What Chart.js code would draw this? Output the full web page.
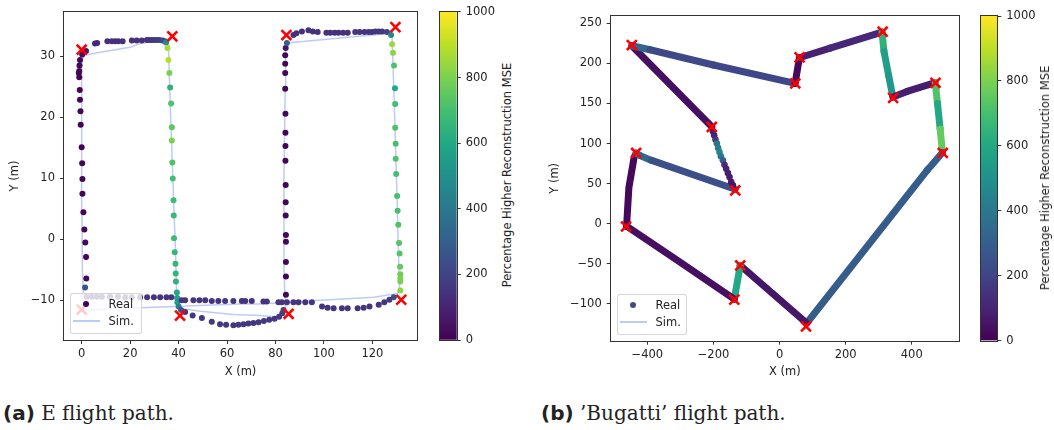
<!DOCTYPE html>
<html>
<head>
<meta charset="utf-8">
<script src="https://cdn.jsdelivr.net/npm/chart.js@4.4.1/dist/chart.umd.min.js"></script>
<style>
  body { margin: 0; background: #fff; }
  #fig { position: relative; width: 1054px; height: 430px; overflow: hidden; font-family: 'DejaVu Sans', sans-serif; color: #222; }
  #fig canvas { position: absolute; top: 0; }
  .leg { position: absolute; box-sizing: border-box; background: rgba(255,255,255,0.8); border: 1px solid rgba(204,204,204,0.8); border-radius: 3px; font-size: 11.5px; }
  .leg .dot { position: absolute; left: 11.5px; top: 7px; width: 6px; height: 6px; border-radius: 50%; }
  .leg .ln { position: absolute; left: 2px; top: 26px; width: 27px; height: 1.5px; background: rgba(65,105,225,0.35); }
  .leg span { position: absolute; left: 37.5px; line-height: 14px; white-space: nowrap; }
  .cblab { position: absolute; font-size: 11.5px; white-space: nowrap; transform: translate(-50%, -50%) rotate(-90deg); }
  .cap { position: absolute; top: 401px; line-height: 24px; font-size: 20px; white-space: nowrap; }
  .cap b { font-family: 'DejaVu Sans', sans-serif; }
  .cap i { font-style: normal; font-family: 'DejaVu Serif', serif; }
</style>
</head>
<body>
<div id="fig">
  <canvas id="plotA" width="430" height="385" style="left:0"></canvas>
  <canvas id="cbarA" width="70" height="385" style="left:430px"></canvas>
  <canvas id="plotB" width="430" height="385" style="left:540px"></canvas>
  <canvas id="cbarB" width="75" height="385" style="left:971px"></canvas>

  <div class="leg" style="left:70px; top:293px; width:72px; height:41px">
    <div class="dot" style="background:#440154"></div><span style="top:3px">Real</span>
    <div class="ln"></div><span style="top:20px">Sim.</span>
  </div>
  <div class="leg" style="left:617px; top:294px; width:70px; height:41px">
    <div class="dot" style="background:#3e4a89"></div><span style="top:3px">Real</span>
    <div class="ln"></div><span style="top:20px">Sim.</span>
  </div>

  <div class="cblab" style="left:507px; top:175px">Percentage Higher Reconstruction MSE</div>
  <div class="cblab" style="left:1045px; top:178px">Percentage Higher Reconstruction MSE</div>

  <div class="cap" style="left:3px"><b>(a)</b> <i>E flight path.</i></div>
  <div class="cap" style="left:541px"><b>(b)</b> <i>’Bugatti’ flight path.</i></div>
</div>

<script>
/* ---- (a) E flight path ---- */
const A_REAL_X = [
  1.4, 1.9, 1.8, 1.5, 1.1, 0.7, 0.3, 0.3, 0.2, 0.0, -0.4, -0.5, -0.7, -0.8, -1.0, -1.2, -1.0, -0.9, -0.7, 0.2, 1.8,
  5.5, 6.4, 10.6, 12.4, 13.8, 15.1, 16.9, 20.7, 22.7, 24.8, 26.9, 27.8, 28.9, 29.9, 31.0, 32.1, 33.4, 34.4,
  34.8, 35.4, 35.8, 36.2, 36.5, 36.9, 37.2, 37.2, 37.4, 37.6, 37.9, 38.0, 38.1, 38.4, 38.7, 38.8, 38.9, 39.3, 39.4, 39.5, 40.0,
  41.0, 42.7, 45.8, 49.6, 53.7, 57.1, 59.6, 62.6, 64.7, 66.8, 68.8, 70.9, 73.0, 75.2, 77.4, 79.6, 81.5, 82.8, 83.3,
  84.3, 84.3, 84.3, 84.3, 84.3, 84.2, 84.2, 84.2, 84.1, 84.1, 84.1, 84.1, 84.0, 84.0, 84.0, 84.0, 84.2, 84.7,
  87.4, 88.6, 90.9, 93.6, 95.4, 97.4, 101.0, 102.6, 104.4, 106.0, 107.9, 109.8, 112.9, 114.7, 116.7, 118.4, 119.8, 121.2, 122.6, 124.0, 126.0,
  127.7, 128.1, 128.5, 128.9, 129.3, 129.4, 129.4, 129.6, 129.6, 129.8, 130.2, 130.4, 130.7, 131.0, 131.2, 131.4, 131.5, 131.5, 131.5, 131.5,
  128.8, 127.0, 124.9, 122.6, 118.8, 116.4, 113.9, 109.8, 107.4, 104.0, 101.5, 99.2,
  95.0, 92.3, 89.5, 87.4, 84.7, 82.6, 81.2, 76.4, 75.0, 70.2, 67.5, 66.1,
  62.6, 59.2, 56.4, 53.7, 51.0, 48.6, 46.1, 42.7, 41.3,
  37.0, 35.0, 32.4, 29.8, 27.0, 24.1, 20.7, 18.0, 15.0, 11.7, 8.3, 6.2, 4.1, 2.1
];
const A_REAL_Y = [
  -7.9, -6.4, -2.9, -0.5, 1.6, 4.45, 7.5, 9.9, 12.5, 15.1, 18.8, 21.0, 22.9, 24.5, 26.6, 27.3, 27.6, 28.5, 29.4, 30.3, 30.9,
  32.1, 32.2, 32.5, 32.5, 32.5, 32.5, 32.5, 32.6, 32.6, 32.6, 32.7, 32.7, 32.7, 32.7, 32.7, 32.7, 32.6, 32.5,
  32.3, 31.4, 29.4, 27.3, 24.9, 22.3, 18.4, 16.2, 12.6, 10.0, 6.4, 3.9, 0.2, -2.1, -4.0, -5.6, -6.9, -8.7, -9.6, -10.3, -11.0,
  -11.6, -11.9, -12.5, -12.9, -13.5, -13.9, -14.0, -14.1, -14.0, -13.9, -13.8, -13.7, -13.6, -13.4, -13.2, -13.0, -12.7, -12.1, -11.6,
  -9.1, -6.1, -3.7, -0.4, 0.7, 3.9, 6.1, 8.9, 12.9, 15.3, 17.5, 20.6, 24.7, 27.3, 28.8, 30.2, 31.4, 32.2,
  33.5, 33.8, 34.1, 34.3, 34.1, 34.0, 33.9, 33.9, 33.9, 33.9, 33.9, 33.9, 34.0, 34.0, 34.0, 34.0, 34.0, 34.1, 34.1, 34.1, 34.0,
  33.5, 32.0, 30.6, 28.5, 24.8, 22.2, 18.3, 15.7, 13.2, 10.7, 7.1, 4.7, 2.4, -0.6, -2.3, -4.5, -5.7, -6.4, -6.9, -8.4,
  -9.5, -9.9, -10.3, -10.7, -11.0, -11.2, -11.3, -11.3, -11.3, -11.3, -11.2, -11.0,
  -10.3, -10.3, -10.3, -10.3, -10.3, -10.3, -10.3, -10.2, -10.2, -10.1, -10.1, -10.1,
  -10.1, -10.1, -10.1, -10.1, -10.0, -10.0, -10.0, -10.0, -10.0,
  -9.5, -9.5, -9.5, -9.5, -9.5, -9.5, -9.5, -9.5, -9.4, -9.4, -9.4, -9.4, -9.4, -9.4
];
const A_REAL_MSE = [
  260, 20, 15, 15, 15, 10, 10, 10, 10, 10, 10, 10, 10, 10, 15, 15, 15, 15, 20, 40, 70,
  110, 120, 130, 130, 130, 130, 130, 140, 140, 140, 150, 150, 160, 160, 170, 180, 200, 230,
  480, 870, 890, 800, 640, 720, 740, 800, 720, 700, 680, 670, 680, 660, 660, 650, 640, 600, 560, 540, 420,
  260, 160, 160, 160, 160, 160, 160, 160, 160, 160, 160, 160, 160, 160, 160, 160, 170, 180, 200,
  10, 10, 10, 10, 10, 10, 10, 10, 10, 10, 10, 10, 10, 15, 15, 20, 60, 300,
  140, 140, 140, 140, 140, 140, 140, 140, 140, 140, 140, 140, 150, 150, 150, 150, 150, 160, 160, 170, 190,
  460, 850, 830, 720, 600, 700, 720, 700, 720, 700, 700, 700, 720, 730, 730, 760, 780, 800, 800, 830,
  240, 170, 150, 150, 150, 150, 150, 150, 150, 150, 150, 150,
  150, 150, 150, 150, 150, 150, 150, 150, 150, 150, 150, 150,
  150, 150, 150, 150, 150, 150, 150, 150, 150,
  150, 150, 150, 150, 150, 150, 150, 150, 150, 150, 150, 150, 150, 150
];
const A_SIM_X = [0.7, 0.3, 0.1, 0.0, 0.0, 0.4, 1.4, 7.6, 20.0, 24.1, 29.6, 34.4, 35.8, 36.5, 37.9, 38.6, 39.3, 40.5, 49.0, 62.6,
  73.7, 79.2, 82.0, 83.6, 84.1, 83.5, 83.5, 84.0, 84.2, 84.7, 127.7, 128.1, 129.2, 130.2, 130.8, 131.2, 130.0, 120.5, 93.0, 73.7,
  65.0, 38.0, 0.0, 0.7];
const A_SIM_Y = [-9.0, -5.0, 5.0, 20.0, 28.5, 29.7, 30.2, 30.7, 31.5, 32.1, 32.5, 32.6, 31.8, 22.6, 6.8, -0.3, -10.6, -11.3, -11.8, -12.3,
  -12.5, -12.7, -12.6, -12.0, -11.2, -5.0, 10.0, 25.0, 31.0, 32.2, 33.8, 33.4, 20.0, 6.2, -3.0, -8.4, -8.9, -9.5, -10.1, -10.6,
  -10.6, -11.0, -11.6, -9.0];
const A_WP_X = [0, 0, 37.4, 40.6, 85.4, 84.5, 129.5, 131.9];
const A_WP_Y = [-11.5, 31.1, 33.3, -12.5, -12.2, 33.5, 34.8, -9.9];
const A_X_RANGE = [-7.3, 138.4];
const A_Y_RANGE = [-16.5, 37.3];
const A_XTICKS = [0, 20, 40, 60, 80, 100, 120];
const A_YTICKS = [-10, 0, 10, 20, 30];

/* ---- (b) 'Bugatti' flight path ---- */
const B_REAL_X = [-205, -447, -392, -200, 47, 60, 153, 310, 316, 330, 343, 386, 471, 478, 486, 493, 462, 447, 82,
  -119, -137, -300, -463, -456, -440, -434, -422, -387, -134];
const B_REAL_Y = [121, 222, 217, 198, 175, 207, 219, 239, 215, 185, 158, 165, 176, 150, 118, 89, 74, 67, -124,
  -52, -94, -48, -3, 45, 83, 88, 85, 79, 43];
const B_REAL_MSE = [40, 40, 330, 220, 210, 20, 90, 110, 640, 560, 520, 90, 80, 720, 600, 760, 300, 300, 290,
  60, 600, 40, 40, 20, 20, 20, 380, 330, 240];
const B_DOT_X = [-201.8, -197.9, -193.9, -189.7, -185.8, -181.8, -177.6, -171.5, -166.7, -161.5, -156.4, -151.5, -146.4, -141.2];
const B_DOT_Y = [115.4, 110.4, 105.0, 100.0, 94.5, 89.5, 84.1, 79.1, 73.7, 68.7, 63.3, 58.3, 52.0, 47.9];
const B_DOT_MSE = [80, 90, 150, 380, 420, 450, 400, 300, 120, 90, 80, 80, 70, 60];
const B_SIM_X = [-205, -447, 47.6, 60.6, 312, 343.6, 471.8, 494, 80, -119, -137, -464.5, -434, -134, -205];
const B_SIM_Y = [120.8, 222.9, 175, 207.5, 239.5, 157, 175.8, 88.3, -128, -52, -94.6, -3.4, 88.3, 41.6, 120.8];
const B_WP_X = [-447, -205, -434, -134, 47.6, 60.6, 312, 343.6, 471.8, 494, 80, -119, -137, -464.5];
const B_WP_Y = [222.9, 120.8, 88.3, 41.6, 175, 207.5, 239.5, 157, 175.8, 88.3, -128, -52, -94.6, -3.4];
const B_X_RANGE = [-511, 543];
const B_Y_RANGE = [-145.8, 259.1];
const B_XTICKS = [-400, -200, 0, 200, 400];
const B_YTICKS = [-100, -50, 0, 50, 100, 150, 200, 250];

/* ---- colour bar ---- */
const CB_RANGE = [0, 1000];
const CB_TICKS = [0, 200, 400, 600, 800, 1000];

const VIRIDIS = ['#440154', '#482475', '#414487', '#355f8d', '#2a788e', '#21918c',
                 '#22a884', '#44bf70', '#7ad151', '#bddf26', '#fde725'];
const SIM_COLOR = 'rgba(65,105,225,0.35)';

function hex(c) { return [1, 3, 5].map(i => parseInt(c.slice(i, i + 2), 16)); }
function vir(v) {
  let t = Math.min(Math.max((v - CB_RANGE[0]) / (CB_RANGE[1] - CB_RANGE[0]), 0), 1) * (VIRIDIS.length - 1);
  const i = Math.min(Math.floor(t), VIRIDIS.length - 2), f = t - i;
  const a = hex(VIRIDIS[i]), b = hex(VIRIDIS[i + 1]);
  return 'rgb(' + a.map((c, k) => Math.round(c + (b[k] - c) * f)).join(',') + ')';
}
const pts = (xs, ys) => xs.map((x, i) => ({ x, y: ys[i] }));
const minus = v => String(v).replace('-', '\u2212');

Chart.defaults.font.family = "'DejaVu Sans', sans-serif";
Chart.defaults.font.size = 11.5;
Chart.defaults.color = '#222';

/* black frame round the plot area (all four spines) */
const frame = {
  id: 'frame',
  afterDraw(chart) {
    const { ctx, chartArea: a } = chart;
    ctx.save();
    ctx.strokeStyle = '#333';
    ctx.lineWidth = 1;
    const l = Math.round(a.left) - 0.5, t = Math.round(a.top) - 0.5;
    ctx.strokeRect(l, t, Math.round(a.right) - Math.round(a.left) + 1, Math.round(a.bottom) - Math.round(a.top) + 1);
    ctx.restore();
  }
};

function axis(range, ticks, pos, size, title, titlePad) {
  const horiz = pos === 'bottom';
  return {
    type: 'linear', position: pos, min: range[0], max: range[1],
    afterBuildTicks: s => { s.ticks = ticks.map(v => ({ value: v })); },
    afterFit: s => { if (horiz) s.height = size; else s.width = size; },
    grid: { drawOnChartArea: false, tickLength: 4, color: '#333' },
    border: { display: false },
    ticks: { padding: horiz ? 3 : 5, callback: minus, maxRotation: 0 },
    title: { display: !!title, text: title, padding: horiz ? { top: 0, bottom: titlePad } : { top: titlePad, bottom: 0 } }
  };
}

function plot(id, datasets, xr, yr, xt, yt, yw, xh, pad) {
  return new Chart(document.getElementById(id), {
    type: 'scatter',
    data: { datasets },
    options: {
      responsive: false, animation: false, devicePixelRatio: 1,
      layout: { padding: pad },
      plugins: { legend: { display: false }, tooltip: { enabled: false } },
      scales: {
        x: axis(xr, xt, 'bottom', xh, 'X (m)', 6),
        y: axis(yr, yt, 'left', yw, 'Y (m)', 8)
      }
    },
    plugins: [frame]
  });
}

function colorbar(id, yw, pad) {
  return new Chart(document.getElementById(id), {
    type: 'bar',
    data: {
      labels: [''],
      datasets: [{
        data: [CB_RANGE],
        barPercentage: 1, categoryPercentage: 1, borderWidth: 0,
        backgroundColor: c => {
          const a = c.chart.chartArea;
          if (!a) return VIRIDIS[0];
          const g = c.chart.ctx.createLinearGradient(0, a.bottom, 0, a.top);
          VIRIDIS.forEach((col, i) => g.addColorStop(i / (VIRIDIS.length - 1), col));
          return g;
        }
      }]
    },
    options: {
      responsive: false, animation: false, devicePixelRatio: 1,
      layout: { padding: pad },
      plugins: { legend: { display: false }, tooltip: { enabled: false } },
      scales: {
        x: { display: false },
        y: Object.assign(axis(CB_RANGE, CB_TICKS, 'right', yw, '', 0), { title: { display: false } })
      }
    },
    plugins: [frame]
  });
}

/* (a) */
plot('plotA', [
  { data: pts(A_WP_X, A_WP_Y), pointStyle: 'crossRot', pointRadius: 7, pointBorderWidth: 2.6,
    pointBorderColor: '#ff0000', pointBackgroundColor: '#ff0000', order: 0 },
  { data: pts(A_REAL_X, A_REAL_Y), pointRadius: 3, pointBorderWidth: 0,
    pointBackgroundColor: A_REAL_MSE.map(vir), order: 1 },
  { data: pts(A_SIM_X, A_SIM_Y), showLine: true, pointRadius: 0, borderColor: SIM_COLOR, borderWidth: 1.5, order: 2 }
], A_X_RANGE, A_Y_RANGE, A_XTICKS, A_YTICKS, 64, 45, { top: 10.7, right: 13, left: 0, bottom: 0 });
colorbar('cbarA', 43.3, { left: 10, top: 10.7, bottom: 45, right: 0 });

/* (b) */
plot('plotB', [
  { data: pts(B_WP_X, B_WP_Y), pointStyle: 'crossRot', pointRadius: 7, pointBorderWidth: 2.6,
    pointBorderColor: '#ff0000', pointBackgroundColor: '#ff0000', order: 0 },
  { data: pts(B_DOT_X, B_DOT_Y), pointRadius: 3.3, pointBorderWidth: 0,
    pointBackgroundColor: B_DOT_MSE.map(vir), order: 1 },
  { data: pts(B_REAL_X, B_REAL_Y), showLine: true, pointRadius: 0, borderWidth: 7,
    borderCapStyle: 'round', borderJoinStyle: 'round', borderColor: vir(B_REAL_MSE[0]),
    segment: { borderColor: c => vir(B_REAL_MSE[c.p1DataIndex]) }, order: 2 },
  { data: pts(B_SIM_X, B_SIM_Y), showLine: true, pointRadius: 0, borderColor: SIM_COLOR, borderWidth: 1.5, order: 3 }
], B_X_RANGE, B_Y_RANGE, B_XTICKS, B_YTICKS, 70.7, 44.3, { top: 16, right: 11, left: 0, bottom: 0 });
colorbar('cbarB', 48.7, { left: 10, top: 16, bottom: 44.3, right: 0 });
</script>
</body>
</html>
